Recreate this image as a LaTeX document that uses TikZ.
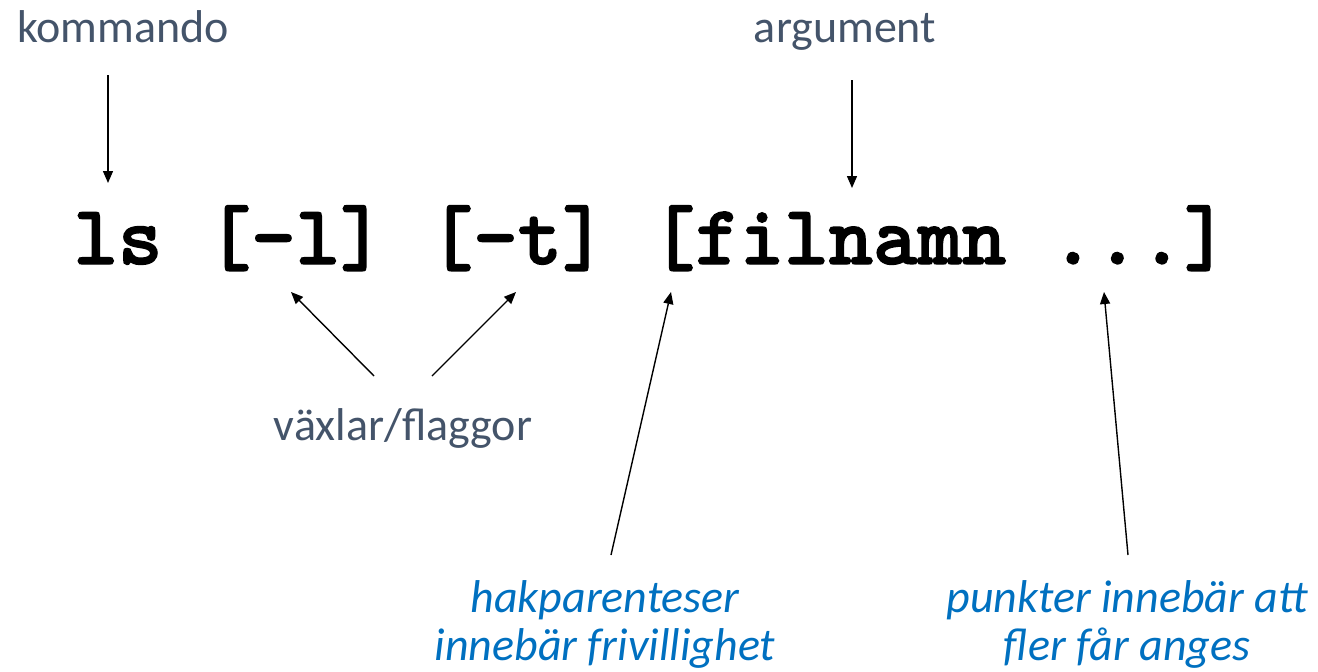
\documentclass[tikz,border=0pt]{standalone}
\usepackage{fontspec}
\setmainfont{Carlito}
\newfontfamily\codefont{lmmonolt10-bold.otf}[FakeBold=1.6]
\usetikzlibrary{arrows.meta}

\definecolor{labelgray}{HTML}{44546A}
\definecolor{noteblue}{HTML}{0070C0}

\tikzset{
  label text/.style={inner sep=0pt, anchor=base, text=labelgray,
    font=\fontsize{46}{47}\selectfont},
  note text/.style={inner sep=0pt, anchor=base, text=noteblue, align=center,
    font=\fontsize{46}{48}\selectfont\itshape},
  code text/.style={inner sep=0pt, anchor=base, text=black,
    font=\fontsize{84.6}{90}\selectfont\codefont},
  pointer/.style={draw=black, line width=1.4pt,
    -{Triangle[length=12pt,width=10pt]}}
}

\begin{document}
\begin{tikzpicture}[x=1pt,y=-1pt]
  \useasboundingbox (0,0) rectangle (1318,672);

  % the command line itself
  \node[code text] (code) at (651,264) {ls [-l] [-t] [filnamn ...]};

  % labels above and below (multi-line nodes sit on their last baseline)
  \node[label text] (kommando) at (123,42) {kommando};
  \node[label text] (argument) at (845,42) {argument};
  \node[label text] (vaxlar)   at (403,440) {växlar/flaggor};
  \node[note text]  (hak)      at (605,660) {hakparenteser\\innebär frivillighet};
  \node[note text]  (punkt)    at (1127,660) {punkter innebär att\\fler får anges};

  % arrow end points
  \coordinate (kommando tail) at (108,75);
  \coordinate (ls head)       at (108,183);
  \coordinate (argument tail) at (852,80);
  \coordinate (filnamn head)  at (852,188);
  \coordinate (vaxlar tail l) at (374,376);
  \coordinate (l head)        at (291,292);
  \coordinate (vaxlar tail r) at (432,376);
  \coordinate (t head)        at (516,292);
  \coordinate (hak tail)      at (611,555);
  \coordinate (bracket head)  at (671,292);
  \coordinate (punkt tail)    at (1128,555);
  \coordinate (dots head)     at (1104,292);

  \draw[pointer] (kommando tail) -- (ls head);
  \draw[pointer] (argument tail) -- (filnamn head);
  \draw[pointer] (vaxlar tail l) -- (l head);
  \draw[pointer] (vaxlar tail r) -- (t head);
  \draw[pointer] (hak tail) -- (bracket head);
  \draw[pointer] (punkt tail) -- (dots head);
\end{tikzpicture}
\end{document}
